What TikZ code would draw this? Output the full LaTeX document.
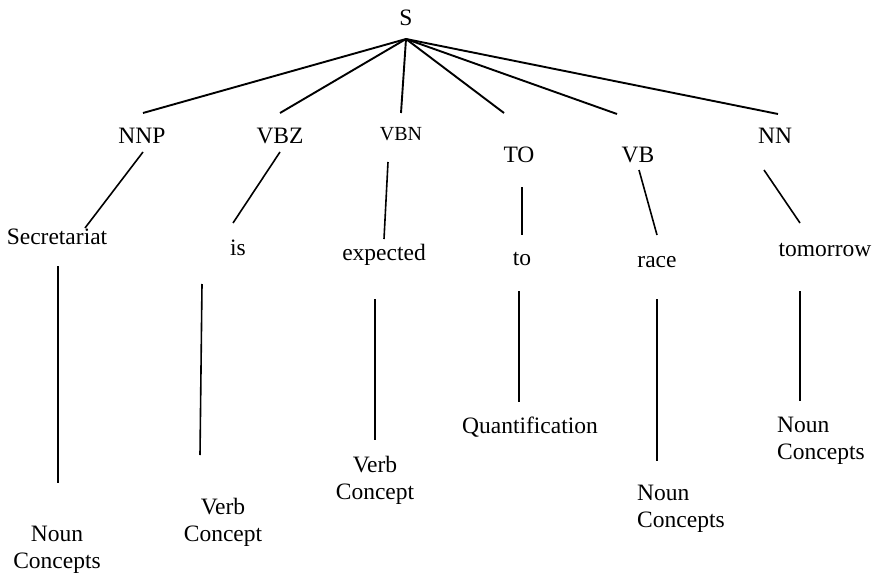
\documentclass[tikz,border=0pt]{standalone}
\usepackage{fontspec}
\setmainfont{Liberation Serif}
\begin{document}
\begin{tikzpicture}[x=1pt,y=-1pt,
  lbl/.style={inner sep=0pt,anchor=base,font=\fontsize{23.5}{27}\selectfont},
  lblsmall/.style={inner sep=0pt,anchor=base,font=\fontsize{20}{24}\selectfont},
  lblleft/.style={lbl,anchor=base west},
  edge/.style={draw=black,line width=1.6pt},
  topedge/.style={draw=black,line width=1.9pt}]
\useasboundingbox (0,0) rectangle (878,575);

% root and part-of-speech tags
\node[lbl] (S)   at (406,26)  {S};
\node[lbl] (NNP) at (142,143) {NNP};
\node[lbl] (VBZ) at (280,143) {VBZ};
\node[lblsmall] (VBN) at (401,140) {VBN};
\node[lbl] (TO)  at (519,162) {TO};
\node[lbl] (VB)  at (638,162) {VB};
\node[lbl] (NN)  at (775,144) {NN};

% words
\node[lbl] (secr)  at (57,244)  {Secretariat};
\node[lbl] (is)    at (238,255) {is};
\node[lbl] (expd)  at (384,260) {expected};
\node[lbl] (to)    at (522,265) {to};
\node[lbl] (race)  at (657,267) {race};
\node[lbl] (tmrw)  at (825,256) {tomorrow};

% concept labels
\node[lbl] (c1) at (57,541)  {\begin{tabular}[t]{@{}c@{}}Noun\\Concepts\end{tabular}};
\node[lbl] (c2) at (223,514) {\begin{tabular}[t]{@{}c@{}}Verb\\Concept\end{tabular}};
\node[lbl] (c3) at (375,472) {\begin{tabular}[t]{@{}c@{}}Verb\\Concept\end{tabular}};
\node[lbl] (c4) at (530,433) {Quantification};
\node[lblleft] (c5) at (637,500) {\begin{tabular}[t]{@{}l@{}}Noun\\Concepts\end{tabular}};
\node[lblleft] (c6) at (777,432) {\begin{tabular}[t]{@{}l@{}}Noun\\Concepts\end{tabular}};

% line ends
\coordinate (S-dn)    at (406,39);
\coordinate (NNP-in)  at (143,113);
\coordinate (VBZ-in)  at (280,113);
\coordinate (VBN-in)  at (401,113);
\coordinate (TO-in)   at (504,113);
\coordinate (VB-in)   at (617,114);
\coordinate (NN-in)   at (778,114);

\coordinate (NNP-dn)  at (143,152);
\coordinate (VBZ-dn)  at (280,152);
\coordinate (VBN-dn)  at (388,162);
\coordinate (TO-dn)   at (522,187);
\coordinate (VB-dn)   at (639,170);
\coordinate (NN-dn)   at (764,170);

\coordinate (secr-in) at (85,228);
\coordinate (is-in)   at (233,223);
\coordinate (expd-in) at (384,239);
\coordinate (to-in)   at (522,235);
\coordinate (race-in) at (657,235);
\coordinate (tmrw-in) at (800,223);

\coordinate (secr-dn) at (58,266);
\coordinate (is-dn)   at (202,284);
\coordinate (expd-dn) at (375,299);
\coordinate (to-dn)   at (519,291);
\coordinate (race-dn) at (657,299);
\coordinate (tmrw-dn) at (800,291);

\coordinate (c1-in) at (58,483);
\coordinate (c2-in) at (200,455);
\coordinate (c3-in) at (375,440);
\coordinate (c4-in) at (519,402);
\coordinate (c5-in) at (657,461);
\coordinate (c6-in) at (800,401);

% branches
\foreach \t in {NNP,VBZ,VBN,TO,VB,NN}
  \draw[topedge] (S-dn) -- (\t-in);

\draw[edge] (NNP-dn) -- (secr-in);
\draw[edge] (VBZ-dn) -- (is-in);
\draw[edge] (VBN-dn) -- (expd-in);
\draw[edge] (TO-dn)  -- (to-in);
\draw[edge] (VB-dn)  -- (race-in);
\draw[edge] (NN-dn)  -- (tmrw-in);

\draw[edge] (secr-dn) -- (c1-in);
\draw[edge] (is-dn)   -- (c2-in);
\draw[edge] (expd-dn) -- (c3-in);
\draw[edge] (to-dn)   -- (c4-in);
\draw[edge] (race-dn) -- (c5-in);
\draw[edge] (tmrw-dn) -- (c6-in);
\end{tikzpicture}
\end{document}
